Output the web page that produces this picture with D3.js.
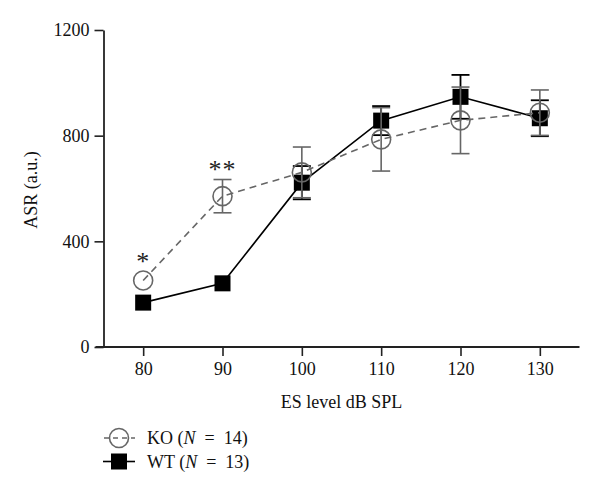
<!DOCTYPE html>
<html><head><meta charset="utf-8">
<script src="https://cdn.jsdelivr.net/npm/d3@7"></script>
<style>body{margin:0;background:#fff}svg{display:block}text{font-family:"Liberation Serif","DejaVu Serif",serif}</style>
</head><body><svg id="c" width="600" height="504"></svg>
<script>
const levels = [80, 90, 100, 110, 120, 130];
const koMean = [252, 571, 661, 786, 858, 887];
const koErr  = [0, 63, 96, 120, 126, 86];
const wtMean = [168, 241, 622, 857, 947, 866];
const wtErr  = [0, 0, 63, 55, 83, 68];
const yTicks = [0, 400, 800, 1200];
const sigLabels = [{x: 80, v: 292, t: "*"}, {x: 90, v: 640, t: "**"}];
const legendItems = ["KO", "WT"];
const legendN = [14, 13];

const svg = d3.select("#c");
const x = d3.scaleLinear().domain([75, 135]).range([103.5, 579.5]);
const y = d3.scaleLinear().domain([0, 1200]).range([347, 30]);
const KO = "#666", WT = "#000";
const FS = 18;

// axes
const gx = svg.append("g").attr("transform", "translate(0,347)")
  .call(d3.axisBottom(x).tickValues(levels).tickSize(9).tickSizeOuter(0).tickPadding(6).tickFormat(d3.format("d")));
gx.select(".domain").remove();
gx.append("line").attr("x1", x(74)).attr("x2", x(135)).attr("stroke", "#222").attr("stroke-width", 1.8);
gx.selectAll(".tick line").attr("stroke", "#222").attr("stroke-width", 1.6);
gx.selectAll("text").attr("font-size", FS).attr("fill", "#111").attr("font-family", "Liberation Serif");

const gy = svg.append("g").attr("transform", "translate(103.5,0)")
  .call(d3.axisLeft(y).tickValues(yTicks).tickSize(9).tickSizeOuter(0).tickPadding(5).tickFormat(d3.format("d")));
gy.select(".domain").attr("stroke", "#222").attr("stroke-width", 1.8);
gy.selectAll(".tick line").attr("stroke", "#222").attr("stroke-width", 1.6);
gy.selectAll("text").attr("font-size", FS).attr("fill", "#111").attr("font-family", "Liberation Serif");

svg.append("text").attr("x", x(105)).attr("y", 408).attr("text-anchor", "middle")
  .attr("font-size", FS).attr("fill", "#111").text("ES level dB SPL");
svg.append("text").attr("transform", "translate(37,190) rotate(-90)").attr("text-anchor", "middle")
  .attr("font-size", FS).attr("fill", "#111").text("ASR (a.u.)");

const line = d3.line().x(d => x(d[0])).y(d => y(d[1]));
const ko = levels.map((l, i) => [l, koMean[i], koErr[i]]);
const wt = levels.map((l, i) => [l, wtMean[i], wtErr[i]]);

function errBars(data, color, w) {
  const g = svg.append("g").attr("stroke", color).attr("stroke-width", w);
  data.filter(d => d[2] > 0).forEach(d => {
    g.append("line").attr("x1", x(d[0])).attr("x2", x(d[0])).attr("y1", y(d[1] - d[2])).attr("y2", y(d[1] + d[2]));
    [-1, 1].forEach(s => g.append("line").attr("x1", x(d[0]) - 9).attr("x2", x(d[0]) + 9)
      .attr("y1", y(d[1] + s * d[2])).attr("y2", y(d[1] + s * d[2])));
  });
}

// WT
errBars(wt, WT, 1.8);
svg.append("path").datum(wt).attr("d", line).attr("fill", "none").attr("stroke", WT).attr("stroke-width", 1.6);
svg.selectAll(".sq").data(wt).join("rect").attr("x", d => x(d[0]) - 8).attr("y", d => y(d[1]) - 8)
  .attr("width", 16).attr("height", 16).attr("fill", WT);

// KO
errBars(ko, KO, 1.6);
svg.append("path").datum(ko).attr("d", line).attr("fill", "none").attr("stroke", KO)
  .attr("stroke-width", 1.6).attr("stroke-dasharray", "7,5");
svg.selectAll(".ci").data(ko).join("circle").attr("cx", d => x(d[0])).attr("cy", d => y(d[1]))
  .attr("r", 9.5).attr("fill", "none").attr("stroke", KO).attr("stroke-width", 1.6);

// significance
svg.selectAll(".sig").data(sigLabels).join("text").attr("x", d => x(d.x)).attr("y", d => y(d.v))
  .attr("text-anchor", "middle").attr("font-size", 26).attr("fill", "#222").attr("letter-spacing", 1).text(d => d.t);

// legend
const lg = svg.append("g");
legendItems.forEach((name, i) => {
  const cy = 438 + i * 23.5;
  const row = lg.append("g");
  if (i === 0) {
    row.append("line").attr("x1", 103).attr("x2", 135).attr("y1", cy).attr("y2", cy)
      .attr("stroke", KO).attr("stroke-width", 1.6).attr("stroke-dasharray", "5,4").attr("stroke-dashoffset", -1);
    row.append("circle").attr("cx", 119).attr("cy", cy).attr("r", 9.5).attr("fill", "none")
      .attr("stroke", KO).attr("stroke-width", 1.6);
  } else {
    row.append("line").attr("x1", 103).attr("x2", 135).attr("y1", cy).attr("y2", cy)
      .attr("stroke", WT).attr("stroke-width", 1.6);
    row.append("rect").attr("x", 111).attr("y", cy - 8).attr("width", 16).attr("height", 16).attr("fill", WT);
  }
  const t = row.append("text").attr("x", 147).attr("y", cy + 6).attr("font-size", FS).attr("fill", "#111");
  t.append("tspan").text(name + " (");
  t.append("tspan").attr("font-style", "italic").text("N");
  t.append("tspan").text("\u2002=\u2002" + legendN[i] + ")");
});
</script></body></html>
